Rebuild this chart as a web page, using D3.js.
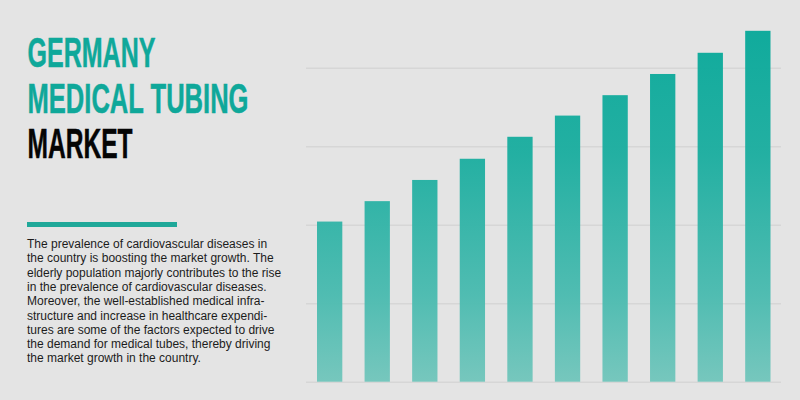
<!DOCTYPE html>
<html>
<head>
<meta charset="utf-8">
<script src="https://cdn.jsdelivr.net/npm/d3@7"></script>
<style>
  html, body { margin: 0; padding: 0; background: #e4e4e4; }
  svg { display: block; }
  .title { font-family: "Liberation Sans Narrow", "Liberation Sans", sans-serif; font-weight: bold; font-size: 43px; stroke-width: 0.5px; }
  .body-text { font-family: "Liberation Sans", Arial, sans-serif; font-size: 12px; fill: #1c1c1c; }
  .grid line { stroke: #d6d6d6; stroke-width: 1.4px; }
  .grid path { display: none; }
  .grid text { display: none; }
</style>
</head>
<body>
<script>
    // no year labels in the picture, just ten bars
    var bars = ["b1", "b2", "b3", "b4", "b5", "b6", "b7", "b8", "b9", "b10"];
    var values = [204, 230, 257, 284, 312, 339, 365, 392, 419, 447];
    var gridTicks = [0, 100, 200, 300, 400];

    var titleLines = ["GERMANY", "MEDICAL TUBING", "MARKET"];
    var titleColours = ["#0fa89a", "#0fa89a", "#050505"];
    var titleWidths = [128, 221, 105];

    var bodyLines = [
        "The prevalence of cardiovascular diseases in",
        "the country is boosting the market growth. The",
        "elderly population majorly contributes to the rise",
        "in the prevalence of cardiovascular diseases.",
        "Moreover, the well-established medical infra-",
        "structure and increase in healthcare expendi-",
        "tures are some of the factors expected to drive",
        "the demand for medical tubes, thereby driving",
        "the market growth in the country."
    ];

    var svg = d3.select("body").append("svg")
        .attr("width", 800)
        .attr("height", 400);

    svg.append("rect")
        .attr("width", 800)
        .attr("height", 400)
        .attr("fill", "#e4e4e4");

    var x = d3.scaleBand()
        .domain(bars)
        .range([317, 770.5])
        .paddingInner(0.468)
        .paddingOuter(0);

    var y = d3.scaleLinear()
        .domain([0, 400])
        .range([381.7, 67.7]);

    var grad = svg.append("defs").append("linearGradient")
        .attr("id", "barFill")
        .attr("gradientUnits", "userSpaceOnUse")
        .attr("x1", 0).attr("x2", 0)
        .attr("y1", y(447)).attr("y2", y(0));
    grad.append("stop").attr("offset", "0%").attr("stop-color", "#0aa99a").attr("stop-opacity", 0.97);
    grad.append("stop").attr("offset", "35%").attr("stop-color", "#1daea0").attr("stop-opacity", 0.97);
    grad.append("stop").attr("offset", "75%").attr("stop-color", "#4bbbb0").attr("stop-opacity", 0.97);
    grad.append("stop").attr("offset", "100%").attr("stop-color", "#73c6bc").attr("stop-opacity", 0.97);

    svg.append("g")
        .attr("class", "grid")
        .attr("transform", "translate(781,0)")
        .call(d3.axisLeft(y).tickValues(gridTicks).tickSize(475).tickFormat(""));

    svg.selectAll(".bar")
        .data(values)
        .enter().append("rect")
        .attr("class", "bar")
        .attr("x", function (d, i) { return x(bars[i]); })
        .attr("width", x.bandwidth())
        .attr("y", function (d) { return y(d); })
        .attr("height", function (d) { return y(0) - y(d); })
        .attr("fill", "url(#barFill)");

    svg.selectAll(".title")
        .data(titleLines)
        .enter().append("text")
        .attr("class", "title")
        .attr("x", 27.5)
        .attr("y", function (d, i) { return 67 + i * 45.5; })
        .attr("fill", function (d, i) { return titleColours[i]; })
        .attr("stroke", function (d, i) { return titleColours[i]; })
        .attr("textLength", function (d, i) { return titleWidths[i]; })
        .attr("lengthAdjust", "spacingAndGlyphs")
        .text(function (d) { return d; });

    svg.append("rect")
        .attr("x", 27)
        .attr("y", 222)
        .attr("width", 150)
        .attr("height", 5)
        .attr("fill", "#1fa899");

    svg.selectAll(".body-text")
        .data(bodyLines)
        .enter().append("text")
        .attr("class", "body-text")
        .attr("x", 27)
        .attr("y", function (d, i) { return 248 + i * 14.3; })
        .text(function (d) { return d; });
</script>
</body>
</html>
